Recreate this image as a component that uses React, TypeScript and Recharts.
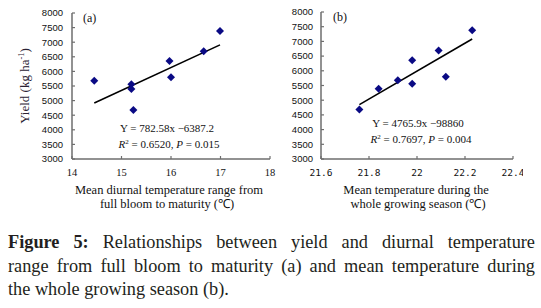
import React from "react";
import { ScatterChart, Scatter, XAxis, YAxis } from "recharts";

// Panel (a): mean diurnal temperature range vs yield
const diurnalRange = [14.45, 15.2, 15.2, 15.24, 15.97, 16.0, 16.66, 16.99];
const yieldA = [5680, 5560, 5400, 4680, 6360, 5800, 6690, 7380];
const fitA_x = [14.45, 16.99];
const fitA_y = [4921, 6909];

// Panel (b): mean temperature vs yield
const meanTemp = [21.76, 21.84, 21.92, 21.98, 21.98, 22.09, 22.12, 22.23];
const yieldB = [4680, 5390, 5680, 6360, 5560, 6690, 5800, 7380];
const fitB_x = [21.76, 22.23];
const fitB_y = [4850, 7080];

const yTicks = [3000, 3500, 4000, 4500, 5000, 5500, 6000, 6500, 7000, 7500, 8000];
const xTicksA = [14, 15, 16, 17, 18];
const xTicksB = [21.6, 21.8, 22, 22.2, 22.4];

const ptsA = diurnalRange.map((x, i) => ({ x, y: yieldA[i] }));
const ptsB = meanTemp.map((x, i) => ({ x, y: yieldB[i] }));
const lineA = fitA_x.map((x, i) => ({ x, y: fitA_y[i] }));
const lineB = fitB_x.map((x, i) => ({ x, y: fitB_y[i] }));

const AXIS = "#6e6e6e";
const MARK = "#0a0a84";

const Diamond = (p: any) => {
  const { cx, cy } = p;
  if (cx == null || cy == null) return <g />;
  const r = 4;
  return (
    <polygon
      points={`${cx},${cy - r} ${cx + r},${cy} ${cx},${cy + r} ${cx - r},${cy}`}
      fill={MARK}
    />
  );
};

const NoShape = () => <g />;

const makeYTick = (off: number) => (props: any) => {
  const { x, y, payload } = props;
  return (
    <g>
      <text
        x={x}
        y={y}
        dy="0.35em"
        textAnchor="end"
        fontSize={9.5}
        fontFamily='"Liberation Sans", Arial, sans-serif'
        fill="#111"
      >
        {payload.value}
      </text>
      <line x1={x + off} x2={x + off + 3} y1={y} y2={y} stroke={AXIS} strokeWidth={1.2} />
    </g>
  );
};

const makeXTick = (off: number, mono: boolean) => (props: any) => {
  const { x, y, payload } = props;
  return (
    <g>
      <text
        x={x}
        y={y}
        dy="0.71em"
        textAnchor="middle"
        fontSize={mono ? 9.5 : 10.5}
        fontFamily={mono ? '"DejaVu Sans Mono", monospace' : '"Liberation Serif", serif'}
        fill="#111"
      >
        {payload.value}
      </text>
      <line x1={x} x2={x} y1={y - off} y2={y - off - 3} stroke={AXIS} strokeWidth={1.2} />
    </g>
  );
};

const serif = '"Liberation Serif", "Times New Roman", serif';

export default function App() {
  return (
    <div
      style={{
        position: "absolute",
        left: 0,
        top: 0,
        width: 541,
        height: 308,
        background: "#fff",
        fontFamily: serif,
        overflow: "hidden",
      }}
    >
      <div style={{ position: "absolute", left: 0, top: 0 }}>
        <ScatterChart width={280} height={182} margin={{ top: 13, right: 10, bottom: 0, left: 0 }}>
          <XAxis
            type="number"
            dataKey="x"
            domain={[14, 18]}
            ticks={xTicksA}
            height={23}
            tickLine={false}
            tickSize={10}
            tickMargin={0}
            axisLine={{ stroke: AXIS, strokeWidth: 1.5 }}
            tick={makeXTick(10, false)}
            interval={0}
          />
          <YAxis
            type="number"
            dataKey="y"
            domain={[3000, 8000]}
            ticks={yTicks}
            width={72}
            tickLine={false}
            tickSize={9}
            tickMargin={0}
            axisLine={{ stroke: AXIS, strokeWidth: 1.5 }}
            tick={makeYTick(9)}
            interval={0}
          />
          <Scatter data={lineA} line={{ stroke: "#000", strokeWidth: 1.6 }} shape={NoShape} isAnimationActive={false} />
          <Scatter data={ptsA} shape={Diamond} isAnimationActive={false} />
        </ScatterChart>
      </div>

      <div style={{ position: "absolute", left: 270, top: 0 }}>
        <ScatterChart width={253} height={182} margin={{ top: 12, right: 10, bottom: 0, left: 0 }}>
          <XAxis
            type="number"
            dataKey="x"
            domain={[21.6, 22.4]}
            ticks={xTicksB}
            height={23}
            tickLine={false}
            tickSize={10}
            tickMargin={0}
            axisLine={{ stroke: AXIS, strokeWidth: 1.5 }}
            tick={makeXTick(10, true)}
            interval={0}
          />
          <YAxis
            type="number"
            dataKey="y"
            domain={[3000, 8000]}
            ticks={yTicks}
            width={51}
            tickLine={false}
            tickSize={8}
            tickMargin={0}
            axisLine={{ stroke: AXIS, strokeWidth: 1.5 }}
            tick={makeYTick(8)}
            interval={0}
          />
          <Scatter data={lineB} line={{ stroke: "#000", strokeWidth: 1.6 }} shape={NoShape} isAnimationActive={false} />
          <Scatter data={ptsB} shape={Diamond} isAnimationActive={false} />
        </ScatterChart>
      </div>

      <svg
        width={541}
        height={225}
        style={{ position: "absolute", left: 0, top: 0, pointerEvents: "none" }}
        fontFamily={serif}
        fill="#111"
      >
        <text transform="translate(29,86) rotate(-90)" textAnchor="middle" fontSize={13} fill="#2a2233">
          Yield (kg ha<tspan dy={-5} fontSize={8.5}>-1</tspan>
          <tspan dy={5}>)</tspan>
        </text>

        <text x={83} y={21.5} fontSize={12}>(a)</text>
        <text x={333} y={21} fontSize={12}>(b)</text>

        <text x={167} y={132} fontSize={11} textAnchor="middle">Y = 782.58x −6387.2</text>
        <text x={169} y={148} fontSize={11} textAnchor="middle">
          <tspan fontStyle="italic">R</tspan>
          <tspan dy={-4} fontSize={7}>2</tspan>
          <tspan dy={4}> = 0.6520, </tspan>
          <tspan fontStyle="italic">P</tspan> = 0.015
        </text>

        <text x={418} y={127} fontSize={11} textAnchor="middle">Y = 4765.9x −98860</text>
        <text x={421} y={143} fontSize={11} textAnchor="middle">
          <tspan fontStyle="italic">R</tspan>
          <tspan dy={-4} fontSize={7}>2</tspan>
          <tspan dy={4}> = 0.7697, </tspan>
          <tspan fontStyle="italic">P</tspan> = 0.004
        </text>

        <text x={169} y={194} fontSize={12.5} textAnchor="middle">Mean diurnal temperature range from</text>
        <text x={167} y={208} fontSize={12.5} textAnchor="middle">full bloom to maturity (℃)</text>

        <text x={416} y={194} fontSize={12.5} textAnchor="middle">Mean temperature during the</text>
        <text x={418} y={208} fontSize={12.5} textAnchor="middle">whole growing season (℃)</text>
      </svg>

      <div
        style={{
          position: "absolute",
          left: 8,
          top: 231,
          width: 527,
          fontSize: 18.3,
          lineHeight: "23.5px",
          color: "#231f20",
          fontFamily: serif,
        }}
      >
        <div style={{ textAlign: "justify", textAlignLast: "justify", whiteSpace: "nowrap" }}>
          <b>Figure 5:</b> Relationships between yield and diurnal temperature
        </div>
        <div style={{ textAlign: "justify", textAlignLast: "justify", whiteSpace: "nowrap" }}>
          range from full bloom to maturity (a) and mean temperature during
        </div>
        <div style={{ whiteSpace: "nowrap" }}>the whole growing season (b).</div>
      </div>
    </div>
  );
}
